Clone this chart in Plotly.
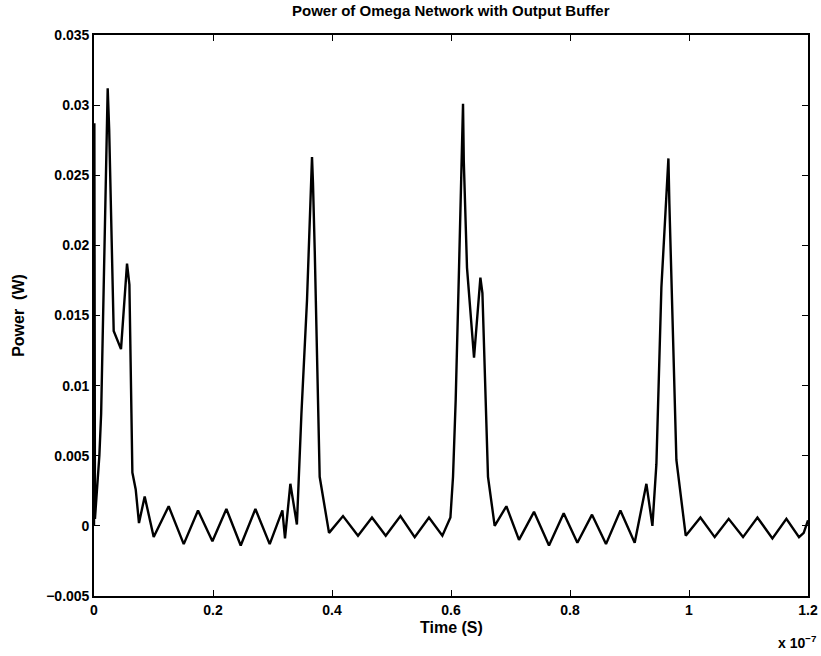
import plotly.graph_objects as go

# Simulated power trace of the Omega network (time in units of 1e-7 s)
time_e7 = [
    0.0, 0.0006, 0.0016, 0.009, 0.012, 0.016, 0.023, 0.0255, 0.0331, 0.0454,
    0.0555, 0.0595, 0.0645, 0.0701, 0.0756, 0.0852, 0.1003, 0.1255, 0.1508,
    0.1748, 0.199, 0.2225, 0.2466, 0.2713, 0.2953, 0.3166, 0.321, 0.330,
    0.341, 0.3486, 0.358, 0.3664, 0.368, 0.371, 0.3793, 0.395, 0.4185, 0.4437,
    0.4672, 0.4903, 0.515, 0.539, 0.563, 0.5855, 0.599, 0.6034, 0.6079,
    0.6134, 0.6202, 0.6215, 0.6269, 0.6387, 0.6494, 0.6528, 0.6583, 0.6622,
    0.6734, 0.6931, 0.7143, 0.7395, 0.7647, 0.7894, 0.8124, 0.837, 0.8605,
    0.8847, 0.9087, 0.9284, 0.9385, 0.9452, 0.9536, 0.9654, 0.967, 0.9788,
    0.9945, 1.0192, 1.0432, 1.0667, 1.0908, 1.115, 1.1402, 1.1637, 1.1849,
    1.1928, 1.2,
]
power_w = [
    0.0, 0.0287, 0.0005, 0.005, 0.008, 0.016, 0.0312, 0.0283, 0.0139, 0.0126,
    0.0187, 0.0172, 0.0038, 0.0026, 0.0002, 0.0021, -0.0008, 0.0014, -0.0013,
    0.0011, -0.0011, 0.0012, -0.0014, 0.0012, -0.0013, 0.0011, -0.0009, 0.003,
    0.0001, 0.008, 0.0161, 0.0263, 0.0245, 0.0196, 0.0035, -0.0005, 0.0007,
    -0.0007, 0.0006, -0.0007, 0.0007, -0.0008, 0.0006, -0.0007, 0.0006,
    0.0035, 0.009, 0.0182, 0.0301, 0.026, 0.0184, 0.0120, 0.0177, 0.0166,
    0.009, 0.0035, 0.0, 0.0014, -0.001, 0.001, -0.0014, 0.0009, -0.0012,
    0.0008, -0.0013, 0.0011, -0.0012, 0.003, 0.0, 0.0044, 0.017, 0.0262,
    0.023, 0.0047, -0.0007, 0.0006, -0.0008, 0.0005, -0.0008, 0.0006,
    -0.0009, 0.0005, -0.0008, -0.0005, 0.0004,
]

x_ticks = [0, 0.2, 0.4, 0.6, 0.8, 1.0, 1.2]
x_labels = ["0", "0.2", "0.4", "0.6", "0.8", "1", "1.2"]
y_ticks = [-0.005, 0, 0.005, 0.01, 0.015, 0.02, 0.025, 0.03, 0.035]
y_labels = ["\u22120.005", "0", "0.005", "0.01", "0.015", "0.02", "0.025", "0.03", "0.035"]

font_family = "Liberation Sans, Arial, sans-serif"


def bold(size):
    return dict(family=font_family, size=size, color="black", weight="bold")


fig = go.Figure()
fig.add_trace(go.Scatter(
    x=time_e7, y=power_w, mode="lines",
    line=dict(color="black", width=2.4),
    showlegend=False,
))

axis_common = dict(
    showline=True, linecolor="black", linewidth=1.6, mirror="allticks",
    ticks="inside", ticklen=6, tickcolor="black", tickwidth=1.3,
    showgrid=False, zeroline=False, automargin=False,
    tickfont=bold(14),
)

fig.update_layout(
    width=821, height=656,
    margin=dict(l=94, r=13, t=35, b=60, autoexpand=False),
    paper_bgcolor="white", plot_bgcolor="white",
    title=dict(
        text="Power of Omega Network with Output Buffer",
        x=0.549, xanchor="center", y=0.992, yanchor="top",
        font=bold(15),
    ),
    xaxis=dict(range=[0, 1.2], tickvals=x_ticks, ticktext=x_labels, **axis_common),
    yaxis=dict(
        range=[-0.005, 0.035], tickvals=y_ticks, ticktext=y_labels,
        title=dict(text="Power\u00a0\u00a0(W)", standoff=18, font=bold(16)),
        **axis_common,
    ),
    annotations=[
        dict(
            text="Time (S)", xref="paper", yref="paper",
            x=0.5, y=-0.056, xanchor="center", yanchor="middle", showarrow=False,
            font=bold(16),
        ),
        dict(
            text="x 10<sup>\u22127</sup>", xref="paper", yref="paper",
            x=0.985, y=-0.062, xanchor="center", yanchor="top", showarrow=False,
            font=bold(14),
        ),
    ],
)

fig.write_html("out.html")
